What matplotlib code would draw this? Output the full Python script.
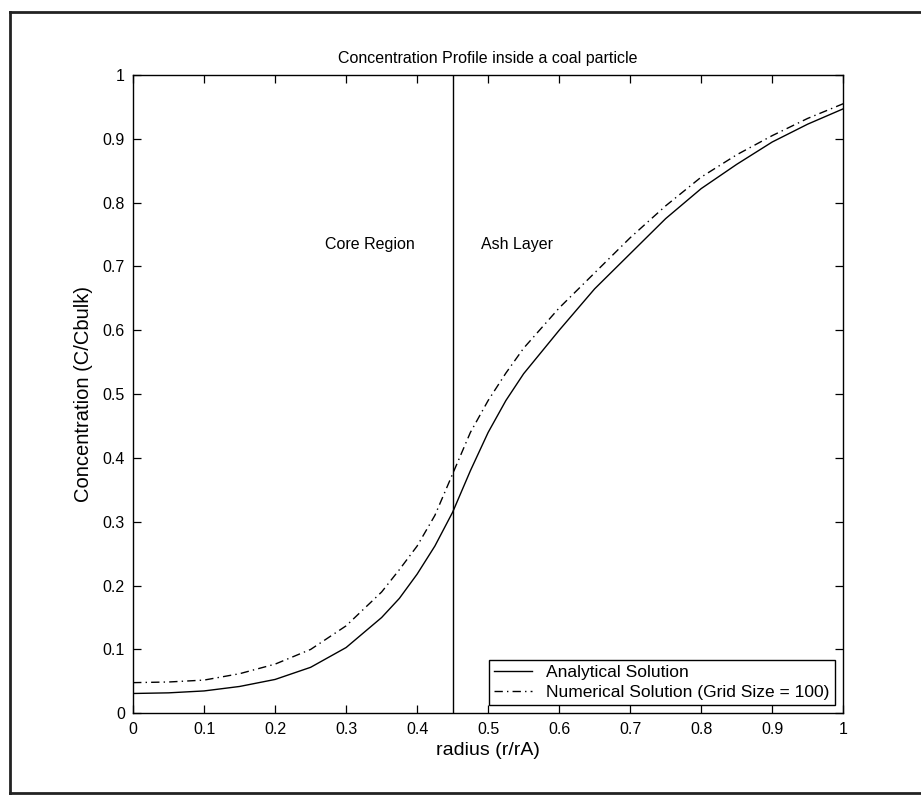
import numpy as np
import matplotlib
matplotlib.use("Agg")
import matplotlib.pyplot as plt
from matplotlib.lines import Line2D

plt.rcParams.update({"font.family": ["Liberation Sans", "DejaVu Sans"], "font.size": 11.5,
                     "xtick.direction": "in", "ytick.direction": "in"})

# radius (r/rA) and the two concentration profiles
r = [0, 0.05, 0.1, 0.15, 0.2, 0.25, 0.3, 0.35, 0.375, 0.4, 0.425, 0.45, 0.475, 0.5, 0.525, 0.55,
     0.6, 0.65, 0.7, 0.75, 0.8, 0.85, 0.9, 0.95, 1.0]
c_analytical = [0.031, 0.032, 0.035, 0.042, 0.053, 0.072, 0.103, 0.15, 0.18, 0.218, 0.262, 0.315, 0.38,
                0.44, 0.49, 0.532, 0.60, 0.665, 0.72, 0.775, 0.822, 0.86, 0.895, 0.923, 0.947]
c_numerical = [0.048, 0.049, 0.052, 0.062, 0.077, 0.10, 0.137, 0.19, 0.225, 0.262, 0.31, 0.375, 0.44,
               0.49, 0.533, 0.572, 0.635, 0.69, 0.745, 0.795, 0.84, 0.875, 0.905, 0.932, 0.955]
r_front = 0.45          # core / ash boundary
ticks = [0, 0.1, 0.2, 0.3, 0.4, 0.5, 0.6, 0.7, 0.8, 0.9, 1]
tick_labels = ["0", "0.1", "0.2", "0.3", "0.4", "0.5", "0.6", "0.7", "0.8", "0.9", "1"]

fig = plt.figure(figsize=(9.21, 8.11), dpi=100)
# scanned page frame
for xs, ys in [([0.011, 0.011], [0.022, 0.985]), ([0.011, 1.0], [0.985, 0.985]), ([0.011, 1.0], [0.022, 0.022])]:
    fig.add_artist(Line2D(xs, ys, color="#222222", lw=2.0, transform=fig.transFigure))

ax = fig.add_axes([0.1445, 0.1205, 0.771, 0.787])
ax.plot(r, c_analytical, color="k", lw=1.0, label="Analytical Solution")
ax.plot(r, c_numerical, color="k", lw=1.0, ls=(0, (6, 3, 1, 3)), label="Numerical Solution (Grid Size = 100)")
ax.axvline(r_front, color="k", lw=1.0)
ax.text(0.27, 0.727, "Core Region", fontsize=11.5)
ax.text(0.49, 0.727, "Ash Layer", fontsize=11.5)

ax.set_xlim(0, 1); ax.set_ylim(0, 1)
ax.set_xticks(ticks); ax.set_xticklabels(tick_labels)
ax.set_yticks(ticks); ax.set_yticklabels(tick_labels)
ax.tick_params(top=True, right=True, length=6, width=0.9, pad=6)
for s in ax.spines.values(): s.set_linewidth(1.0)
ax.set_title("Concentration Profile inside a coal particle", fontsize=11.5, pad=9)
ax.set_xlabel("radius (r/rA)", fontsize=14, labelpad=4)
ax.set_ylabel("Concentration (C/Cbulk)", fontsize=14.5, labelpad=7)
leg = ax.legend(loc="lower right", bbox_to_anchor=(0.988, 0.013), borderaxespad=0, fancybox=False,
                framealpha=1, edgecolor="k", handlelength=2.2, prop={"size": 12.5},
                borderpad=0.3, labelspacing=0.25)
leg.get_frame().set_linewidth(1.0)
fig.savefig("out.png", dpi=100)
